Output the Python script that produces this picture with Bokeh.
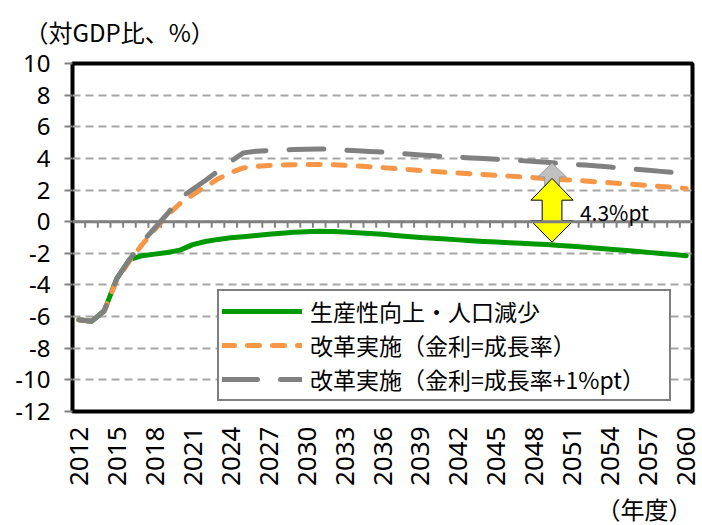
from bokeh.plotting import figure
from bokeh.models import Range1d, FixedTicker, Span, Legend, LegendItem, Label, Title
from bokeh.embed import file_html
from bokeh.resources import INLINE
import math

# ---- data ----
years = list(range(2012, 2061))
productivity = [-6.2, -6.3, -5.65, -3.6, -2.4, -2.15, -2.05, -1.95, -1.8, -1.45,
                -1.25, -1.12, -1.02, -0.95, -0.87, -0.8, -0.73, -0.67, -0.63, -0.6,
                -0.62, -0.66, -0.7, -0.75, -0.8, -0.87, -0.94, -1.0, -1.05, -1.1,
                -1.15, -1.2, -1.25, -1.29, -1.33, -1.37, -1.41, -1.45, -1.5, -1.56,
                -1.62, -1.68, -1.74, -1.8, -1.87, -1.94, -2.01, -2.08, -2.15]
reform = [-6.2, -6.3, -5.65, -3.7, -2.5, -1.45, -0.5, 0.4, 1.15, 1.7,
          2.2, 2.7, 3.1, 3.4, 3.5, 3.55, 3.58, 3.6, 3.62, 3.62,
          3.6, 3.56, 3.52, 3.47, 3.42, 3.36, 3.3, 3.24, 3.18, 3.12,
          3.07, 3.03, 2.98, 2.93, 2.88, 2.83, 2.78, 2.72, 2.67, 2.63,
          2.57, 2.52, 2.46, 2.4, 2.35, 2.29, 2.23, 2.17, 2.1]
reform_plus1 = [-6.2, -6.3, -5.65, -3.6, -2.4, -1.3, -0.4, 0.5, 1.5, 2.05,
                2.6, 3.2, 3.8, 4.35, 4.45, 4.5, 4.53, 4.56, 4.58, 4.6,
                4.57, 4.52, 4.48, 4.44, 4.4, 4.35, 4.28, 4.22, 4.17, 4.12,
                4.08, 4.03, 3.99, 3.95, 3.91, 3.86, 3.8, 3.75, 3.68, 3.63,
                3.58, 3.52, 3.45, 3.38, 3.32, 3.25, 3.18, 3.11, 3.05]
series_names = ["生産性向上・人口減少", "改革実施（金利=成長率）", "改革実施（金利=成長率+1%pt）"]
x_tick_labels = [str(y) for y in range(2012, 2061, 3)]
y_ticks = list(range(-12, 11, 2))
y_tick_labels = [str(v) for v in y_ticks]
y_title = "（対GDP比、%）"
x_title = "（年度）"
gap_text = "4.3%pt"
gap_year = 2049.4
gap_low = -1.3
gap_high = 2.73
gap_gray_top = 3.7
gap_label_year = 2051.6
gap_label_value = 0.6

JP = "Noto Sans CJK JP"
NUM = "Noto Sans"

p = figure(width=702, height=525, output_backend="svg", toolbar_location=None,
           x_range=Range1d(years[0] - 0.5, years[-1] + 0.5),
           y_range=Range1d(y_ticks[0], y_ticks[-1]),
           min_border_left=72, min_border_right=10, min_border_top=62,
           min_border_bottom=111, background_fill_color="white",
           border_fill_color="white")
p.outline_line_color = "black"
p.outline_line_width = 4

# axes
p.xaxis.ticker = FixedTicker(ticks=[int(t) for t in x_tick_labels])
p.xaxis.major_label_overrides = {int(t): t for t in x_tick_labels}
p.xaxis.major_label_orientation = math.pi / 2
p.xaxis.axis_line_color = None
p.xaxis.major_tick_line_color = None
p.xaxis.minor_tick_line_color = None
p.xaxis.major_tick_out = 0
p.xaxis.major_label_standoff = 15
p.xaxis.major_label_text_font = NUM
p.xaxis.major_label_text_font_size = "26px"
p.xaxis.major_label_text_color = "black"

p.yaxis.ticker = FixedTicker(ticks=y_ticks)
p.yaxis.major_label_overrides = {t: l for t, l in zip(y_ticks, y_tick_labels)}
p.yaxis.axis_line_color = None
p.yaxis.major_tick_line_color = "#808080"
p.yaxis.major_tick_line_width = 2
p.yaxis.major_tick_out = 8
p.yaxis.major_tick_in = 0
p.yaxis.minor_tick_line_color = None
p.yaxis.major_label_standoff = 14
p.yaxis.major_label_text_font = NUM
p.yaxis.major_label_text_font_size = "24px"
p.yaxis.major_label_text_color = "black"

p.xgrid.grid_line_color = None
p.ygrid.grid_line_color = "#a6a6a6"
p.ygrid.grid_line_width = 2
p.ygrid.grid_line_dash = "8 5"

# zero (category) axis with minor tick marks
p.add_layout(Span(location=0, dimension="width", line_color="#808080", line_width=3))
bounds = [y + 0.5 for y in years[:-1]]
p.segment(x0=bounds, y0=[0] * len(bounds), x1=bounds, y1=[-0.38] * len(bounds),
          line_color="#808080", line_width=2)

# series
r1 = p.line(years, productivity, line_color="#009900", line_width=5, line_cap="round",
            line_join="round")
r2 = p.line(years, reform, line_color="#f79646", line_width=5, line_cap="round",
            line_join="round", line_dash="12 13")
r3 = p.line(years, reform_plus1, line_color="#808080", line_width=5, line_cap="round",
            line_join="round", line_dash="35 23")

# gap arrows
gx, hw, sw, hh = gap_year, 1.13, 0.58, 0.87
gray_xs = [gx, gx + hw, gx + sw, gx + sw, gx - sw, gx - sw, gx - hw]
gray_ys = [gap_gray_top, gap_gray_top - hh, gap_gray_top - hh, gap_high - 0.5,
           gap_high - 0.5, gap_gray_top - hh, gap_gray_top - hh]
p.patch(gray_xs, gray_ys, fill_color="#c0c0c0", line_color="#9a9a9a", line_width=1)
hw, sw, hh = 1.67, 0.78, 1.37
yl_xs = [gx, gx + hw, gx + sw, gx + sw, gx + hw, gx, gx - hw, gx - sw, gx - sw, gx - hw]
yl_ys = [gap_high, gap_high - hh, gap_high - hh, gap_low + hh, gap_low + hh, gap_low,
         gap_low + hh, gap_low + hh, gap_high - hh, gap_high - hh]
p.patch(yl_xs, yl_ys, fill_color="#ffff00", line_color="black", line_width=1)
p.add_layout(Label(x=gap_label_year, y=gap_label_value, text=gap_text,
                   text_font=JP, text_font_size="21px", text_baseline="middle",
                   text_align="left", text_color="black"))

# legend
legend = Legend(items=[LegendItem(label=series_names[0], renderers=[r1]),
                       LegendItem(label=series_names[1], renderers=[r2]),
                       LegendItem(label=series_names[2], renderers=[r3])],
                location=(145, 10), orientation="vertical",
                label_text_font=JP, label_text_font_size="23px",
                label_text_color="black", glyph_width=80, glyph_height=28,
                label_height=28, label_standoff=8, spacing=0, padding=3,
                margin=0, label_width=356,
                border_line_color="black", border_line_width=2,
                background_fill_color="white", background_fill_alpha=1)
p.add_layout(legend)

# titles
p.add_layout(Title(text=y_title, align="left", offset=-48, standoff=26,
                   vertical_align="top",
                   text_font=JP, text_font_size="24px", text_font_style="normal",
                   text_color="black"), "above")
p.add_layout(Title(text=x_title, align="right", offset=0, standoff=0,
                   text_font=JP, text_font_size="24px", text_font_style="normal",
                   text_color="black"), "below")

open("out.html", "w").write(file_html(p, INLINE))
